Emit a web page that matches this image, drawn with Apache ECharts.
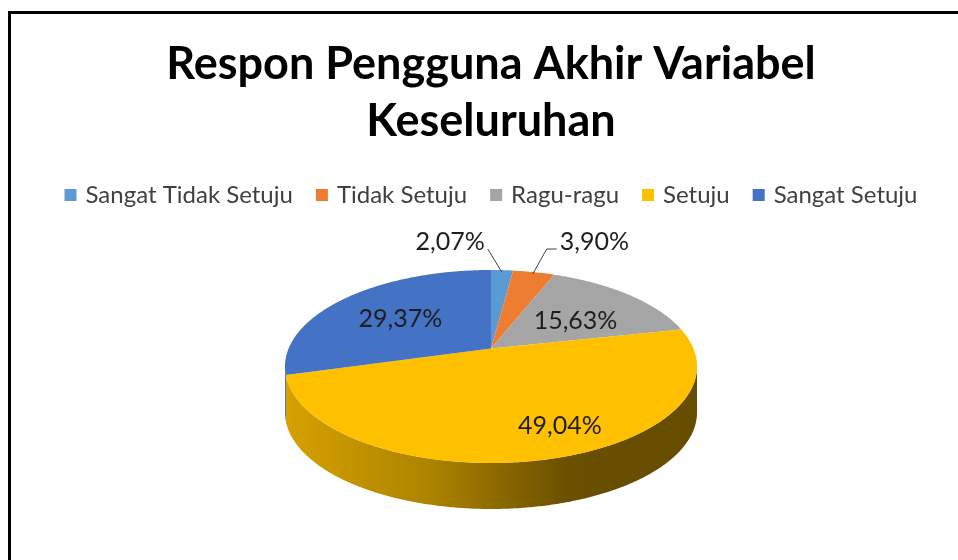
<!DOCTYPE html>
<html>
<head>
<meta charset="utf-8">
<title>Respon Pengguna Akhir Variabel Keseluruhan</title>
<style>
    html, body {
        margin: 0;
        padding: 0;
        width: 100%;
        height: 100%;
        overflow: hidden;
        background: #fff;
    }
    #frame {
        position: absolute;
        left: 8px;
        top: 11px;
        width: 1200px;
        height: 800px;
        border: 3px solid #000;
    }
    #chart {
        position: absolute;
        left: 12px;
        top: 0;
        width: 958px;
        height: 560px;
    }
</style>
<script src="https://cdn.jsdelivr.net/npm/echarts@6/dist/echarts.min.js"></script>
</head>
<body>
<div id="frame"></div>
<div id="chart"></div>
<script>
    var categories = ['Sangat Tidak Setuju', 'Tidak Setuju', 'Ragu-ragu', 'Setuju', 'Sangat Setuju'];
    var percents = [2.07, 3.90, 15.63, 49.04, 29.37];
    var colors = ['#5b9bd5', '#ed7d31', '#a5a5a5', '#ffc000', '#4472c4'];

    // ellipse layout of the 3d pie (chart pixels)
    var cx = 479, cy = 366.5, rx = 206, ry = 96.5, depth = 46;
    var tilt = 0.187;   // perspective: pie centre sits this far (in ry units) behind the ellipse centre
    var labelNudge = [[0, 0], [0, 0], [5, 4], [39, 22], [-7, 0]];
    var font = 'Lato, "Noto Sans", sans-serif';

    // perspective as a disc-preserving projective map (Klein model isometry)
    var ps = (1 - Math.sqrt(1 - tilt * tilt)) / tilt;   // Poincare shift
    function mobius(a, b) {
        // w = (z + p) / (1 + conj(p) z), p = -i*ps
        var na = a, nb = b - ps;
        var da = 1 - ps * b, db = ps * a;
        var dd = da * da + db * db;
        return [(na * da + nb * db) / dd, (nb * da - na * db) / dd];
    }
    function project(theta, k) {
        // true polar (clockwise from top) -> normalised ellipse coords, v pointing down
        var u = k * Math.sin(theta), v = -k * Math.cos(theta);
        var r2 = u * u + v * v;
        var c = 1 + Math.sqrt(Math.max(0, 1 - r2));
        var w = mobius(u / c, v / c);
        var q = 1 + w[0] * w[0] + w[1] * w[1];
        return [2 * w[0] / q, 2 * w[1] / q];
    }
    function toPx(n, dy) {
        return [cx + rx * n[0], cy + ry * n[1] + (dy || 0)];
    }

    var total = 0;
    for (var i = 0; i < percents.length; i++) total += percents[i];
    var bounds = [];   // ellipse parameter of every slice edge
    var acc = 0, prev = -1;
    for (var i = 0; i <= percents.length; i++) {
        var n = project(acc / total * Math.PI * 2, 1);
        var phi = Math.atan2(n[0], -n[1]);
        while (phi < prev - 1e-9) phi += Math.PI * 2;
        if (i === percents.length) phi = Math.PI * 2;
        bounds.push(phi);
        prev = phi;
        if (i < percents.length) acc += percents[i];
    }
    var starts = [];
    acc = 0;
    for (var i = 0; i < percents.length; i++) {
        starts.push(acc / total * Math.PI * 2);
        acc += percents[i];
    }
    var apex = toPx(project(0, 0));

    function arc(p0, p1, dy) {
        var pts = [];
        var n = Math.max(2, Math.ceil((p1 - p0) / 0.01));
        for (var j = 0; j <= n; j++) {
            var p = p0 + (p1 - p0) * j / n;
            pts.push([cx + rx * Math.sin(p), cy - ry * Math.cos(p) + (dy || 0)]);
        }
        return pts;
    }

    function shade(hex, f) {
        var c = echarts.color.parse(hex);
        return 'rgb(' + Math.round(c[0] * f) + ',' + Math.round(c[1] * f) + ',' + Math.round(c[2] * f) + ')';
    }

    function fmt(v) {
        return v.toFixed(2).replace('.', ',') + '%';
    }

    function makeRender(idx) {
        return function (params, api) {
            var v = api.value(0);
            var p0 = bounds[idx], p1 = bounds[idx + 1];
            var color = api.visual('color');
            var children = [];

            // visible side wall (front half only)
            var s0 = Math.max(p0, Math.PI / 2), s1 = Math.min(p1, Math.PI * 1.5);
            if (s1 > s0) {
                var front = arc(s0, s1, 0);
                var back = arc(s0, s1, depth).reverse();
                children.push({
                    type: 'polygon',
                    shape: { points: front.concat(back) },
                    style: {
                        fill: new echarts.graphic.LinearGradient(cx - rx, 0, cx + rx, 0, [
                            { offset: 0, color: shade(color, 0.84) },
                            { offset: 0.35, color: shade(color, 0.68) },
                            { offset: 0.69, color: shade(color, 0.41) },
                            { offset: 1, color: shade(color, 0.40) }
                        ], true)
                    }
                });
            }

            // top face
            children.push({
                type: 'polygon',
                shape: { points: [apex].concat(arc(p0, p1, 0)) },
                style: { fill: color }
            });

            // label
            var m = starts[idx] + v / total * Math.PI;
            if (v >= 10) {
                var lp = toPx(project(m, 0.55));
                children.push({
                    type: 'text',
                    x: lp[0] + labelNudge[idx][0],
                    y: lp[1] + labelNudge[idx][1],
                    style: {
                        text: fmt(v), fill: '#1e1e1e', font: '25px ' + font,
                        align: 'center', verticalAlign: 'middle'
                    }
                });
            } else {
                var side = idx % 2 === 0 ? -1 : 1;
                var e = toPx(project(m, 0.97));
                var ey = cy - ry - 21;
                var elbow = [e[0] + side * 14, ey];
                var tail = side > 0 ? [elbow[0] + 10, ey] : elbow;
                children.push({
                    type: 'polyline',
                    shape: { points: [e, elbow, tail] },
                    style: { stroke: '#404040', lineWidth: 1, fill: null }
                });
                children.push({
                    type: 'text',
                    x: tail[0] + side * 3, y: ey - 7,
                    style: {
                        text: fmt(v), fill: '#1e1e1e', font: '25px ' + font,
                        align: side > 0 ? 'left' : 'right', verticalAlign: 'middle'
                    }
                });
            }
            return { type: 'group', children: children };
        };
    }

    var series = [];
    for (var i = 0; i < categories.length; i++) {
        series.push({
            type: 'custom',
            name: categories[i],
            coordinateSystem: 'none',
            itemStyle: { color: colors[i] },
            renderItem: makeRender(i),
            data: [[percents[i]]],
            silent: true
        });
    }

    var myChart = echarts.init(document.getElementById('chart'));
    var option = {
        animation: false,
        title: {
            text: 'Respon Pengguna Akhir Variabel\nKeseluruhan',
            left: 'center',
            top: 31,
            textStyle: {
                color: '#000',
                fontFamily: font,
                fontSize: 45,
                fontWeight: 'bold',
                lineHeight: 57
            }
        },
        legend: {
            top: 178,
            left: 'center',
            icon: 'rect',
            itemWidth: 12,
            itemHeight: 12,
            itemGap: 23,
            data: categories,
            textStyle: {
                color: '#404040',
                fontFamily: font,
                fontSize: 24,
                padding: [0, 0, 0, 4]
            }
        },
        series: series
    };
    myChart.setOption(option);
</script>
</body>
</html>
